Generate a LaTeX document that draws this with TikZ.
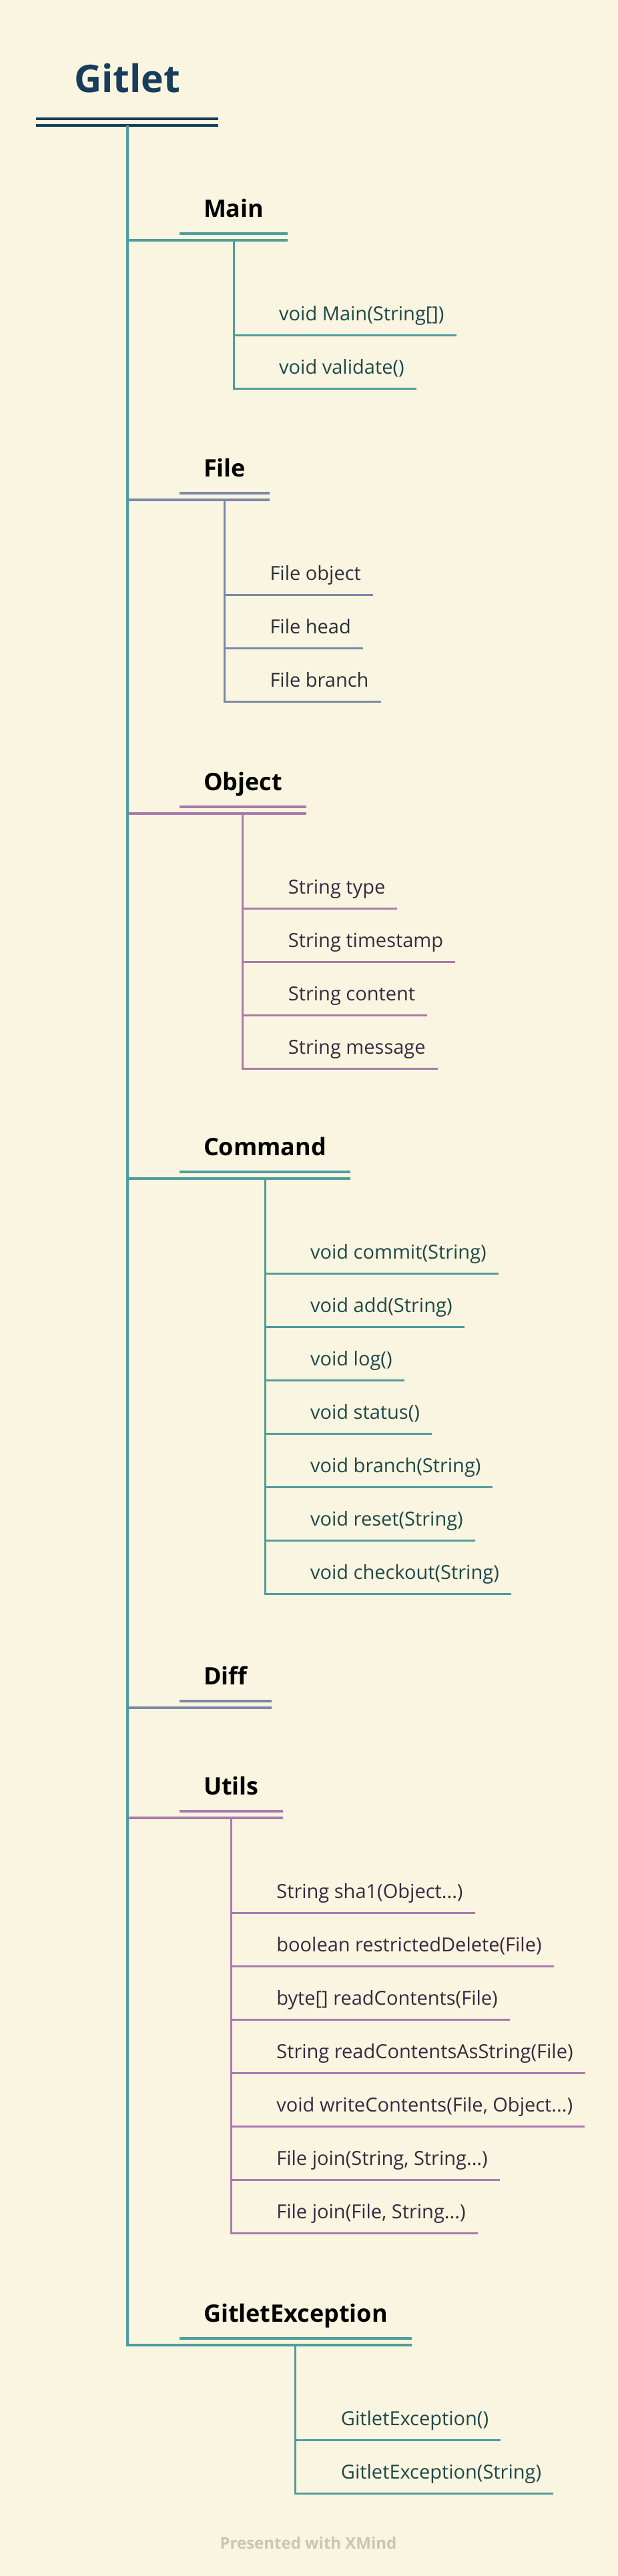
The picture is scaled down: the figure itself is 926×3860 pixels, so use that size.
\documentclass[tikz,border=0pt]{standalone}
\usepackage{fontspec}
\setmainfont{Open Sans}
\usepackage{xcolor}
\definecolor{mapbg}{RGB}{250,245,224}
\definecolor{mapnavy}{RGB}{23,61,92}
\definecolor{mapteal}{RGB}{79,157,157}
\definecolor{mapslate}{RGB}{122,137,168}
\definecolor{mapmauve}{RGB}{170,122,172}
\definecolor{txtteal}{RGB}{30,72,74}
\definecolor{txtslate}{RGB}{42,46,60}
\definecolor{txtmauve}{RGB}{58,40,64}
\definecolor{mapgray}{RGB}{200,198,182}
\usepackage{tikz}
\usetikzlibrary{calc}
\newcommand{\tdots}{...}
\tikzset{
  rootbox/.style={anchor=base west,inner xsep=57pt,inner ysep=0pt,outer sep=0pt,text depth=40pt,
    text=mapnavy,font=\fontsize{57pt}{60pt}\selectfont\bfseries},
  topic/.style={anchor=base west,inner xsep=36pt,inner ysep=0pt,outer sep=0pt,text depth=25pt,
    font=\fontsize{36pt}{40pt}\selectfont\bfseries},
  leaf/.style={anchor=base west,inner xsep=18pt,inner ysep=0pt,outer sep=0pt,text depth=22pt,
    font=\fontsize{29pt}{33pt}\selectfont},
}

\begin{document}
\begin{tikzpicture}[x=1pt,y=-1pt]
\useasboundingbox[fill=mapbg] (0,0) rectangle (926,3860);
\node[rootbox] (gitlet) at (54,138) {Gitlet};
\draw[mapnavy,line width=4pt] (gitlet.south west) -- (gitlet.south east);
\draw[mapnavy,line width=4pt] ([yshift=-10pt]gitlet.south west) -- ([yshift=-10pt]gitlet.south east);
\coordinate (trunk) at ([yshift=-10pt]gitlet.south);
\foreach \nm/\y/\col/\tcol/\n/\items in {
  Main/360/mapteal/txtteal/2/{{void Main(String[])},{void validate()}},
  File/749/mapslate/txtslate/3/{{File object},{File head},{File branch}},
  Object/1219/mapmauve/txtmauve/4/{{String type},{String timestamp},{String content},{String message}},
  Command/1766/mapteal/txtteal/7/{{void commit(String)},{void add(String)},{void log()},{void status()},
    {void branch(String)},{void reset(String)},{void checkout(String)}},
  Diff/2559/mapslate/txtslate/0/{},
  Utils/2724/mapmauve/txtmauve/7/{{String sha1(Object\tdots)},{boolean restrictedDelete(File)},
    {byte[] readContents(File)},{String readContentsAsString(File)},{void writeContents(File, Object\tdots)},
    {File join(String, String\tdots)},{File join(File, String\tdots)}},
  GitletException/3514/mapteal/txtteal/2/{{GitletException()},{GitletException(String)}}} {
  \node[topic] (\nm) at (269,\y-35) {\nm};
  \coordinate (\nm-l) at ([yshift=-10pt]\nm.south);
  \draw[\col,line width=3.5pt] (\nm.south west) -- (\nm.south east);
  \draw[\col,line width=3.5pt] (trunk |- \nm-l) -- ([yshift=-10pt]\nm.south east);
  \ifnum\n>0
    \foreach \t [count=\i from 0] in \items {
      \node[leaf,text=\tcol] (\nm-\i) at ($(\nm-l)+(50,120+80*\i)$) {\t};
      \draw[\col,line width=3pt] (\nm-l) |- (\nm-\i.south west) -- (\nm-\i.south east);
    }
  \fi
}
\draw[mapteal,line width=4pt] (trunk) |- (GitletException-l -| GitletException.west);
\node[text=mapgray,font=\fontsize{24pt}{27pt}\selectfont\bfseries] (credit) at (462,3810) {Presented with XMind};
\end{tikzpicture}
\end{document}
